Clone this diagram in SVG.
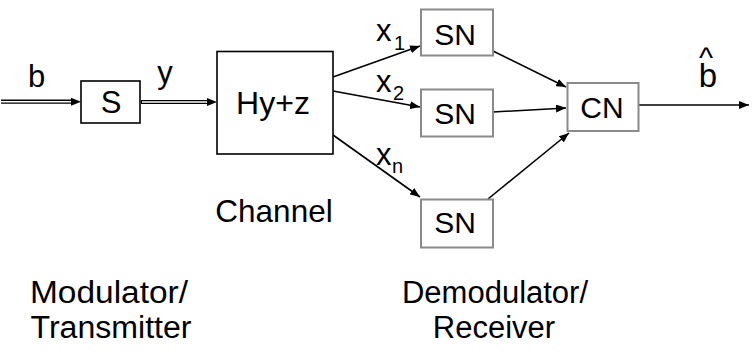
<svg xmlns="http://www.w3.org/2000/svg" width="752" height="360" viewBox="0 0 752 360">
<style>
text{font-family:"Liberation Sans",Arial,Helvetica,sans-serif;fill:#000}
.lbl{font-size:31px}
.mid{text-anchor:middle}
.sub{font-size:20px}
.blk{fill:#fff;stroke:#000;stroke-width:1.6}
.gry{fill:#fff;stroke:#8a8a8a;stroke-width:2}
.con{stroke:#000;stroke-width:1.6;fill:none;marker-end:url(#ah)}
.dblo{stroke:#000;stroke-width:4.2;fill:none}
.dbli{stroke:#fff;stroke-width:1.4;fill:none}
</style>
<defs>
<marker id="ah" markerUnits="userSpaceOnUse" markerWidth="11" markerHeight="8" refX="10" refY="4" orient="auto">
<path d="M0,0 L10,4 L0,8 z" fill="#000"/>
</marker>
</defs>
<rect width="752" height="360" fill="#fff"/>
<g id="connectors">
<line class="dblo" x1="1" y1="101.7" x2="72" y2="101.7"/>
<line class="dbli" x1="1" y1="101.7" x2="73" y2="101.7"/>
<polygon points="71,97.7 81,101.7 71,105.7" fill="#000"/>
<line class="dblo" x1="141" y1="102" x2="208" y2="102"/>
<line class="dbli" x1="142" y1="102" x2="209" y2="102"/>
<polygon points="207,98 217,102 207,106" fill="#000"/>
<line class="con" x1="333" y1="77" x2="420" y2="46"/>
<line class="con" x1="333" y1="91" x2="420" y2="107"/>
<line class="con" x1="333" y1="135" x2="420" y2="197"/>
<line class="con" x1="493" y1="51" x2="566" y2="87"/>
<line class="con" x1="493" y1="112" x2="566" y2="108"/>
<line class="con" x1="488" y1="199" x2="569" y2="133"/>
<line class="con" x1="639" y1="105" x2="749" y2="105"/>
</g>
<g id="input-b"><text class="lbl mid" x="36.5" y="87">b</text></g>
<g id="node-S"><rect class="blk" x="81" y="81" width="59" height="42"/><text class="lbl mid" x="111" y="113">S</text></g>
<g id="label-y"><text class="lbl mid" x="165" y="83">y</text></g>
<g id="node-channel"><rect class="blk" x="217" y="51.5" width="116" height="102.5"/><text class="mid" style="font-size:32px" x="273" y="114">Hy+z</text></g>
<g id="label-channel"><text class="mid" style="font-size:31.5px" x="274" y="222">Channel</text></g>
<g id="label-x1"><text class="lbl" x="376" y="41">x</text><text class="sub" x="394" y="50">1</text></g>
<g id="label-x2"><text class="lbl" x="376" y="92">x</text><text class="sub" x="393" y="100">2</text></g>
<g id="label-xn"><text class="lbl" x="376" y="165">x</text><text class="sub" x="392" y="173">n</text></g>
<g id="node-SN1"><rect class="gry" x="421" y="9.5" width="72" height="46"/><text class="mid" style="font-size:30px" x="455" y="45">SN</text></g>
<g id="node-SN2"><rect class="gry" x="421" y="89.5" width="72" height="47"/><text class="mid" style="font-size:30px" x="455" y="124">SN</text></g>
<g id="node-SN3"><rect class="gry" x="421" y="199.5" width="72" height="48"/><text class="mid" style="font-size:30px" x="455" y="233">SN</text></g>
<g id="node-CN"><rect class="gry" x="567.5" y="83" width="71" height="48"/><text class="mid" style="font-size:30px" x="602" y="118">CN</text></g>
<g id="output-bhat"><text class="mid"><tspan style="font-size:30px" x="706" y="68">^</tspan><tspan style="font-size:33px" x="708" y="87">b</tspan></text></g>
<g id="label-tx"><text class="lbl" x="30" y="303" textLength="158" lengthAdjust="spacingAndGlyphs">Modulator/</text><text class="lbl" x="30.5" y="338" textLength="161" lengthAdjust="spacingAndGlyphs">Transmitter</text></g>
<g id="label-rx"><text class="lbl mid" x="495" y="303">Demodulator/</text><text class="lbl mid" x="494" y="338">Receiver</text></g>
</svg>
